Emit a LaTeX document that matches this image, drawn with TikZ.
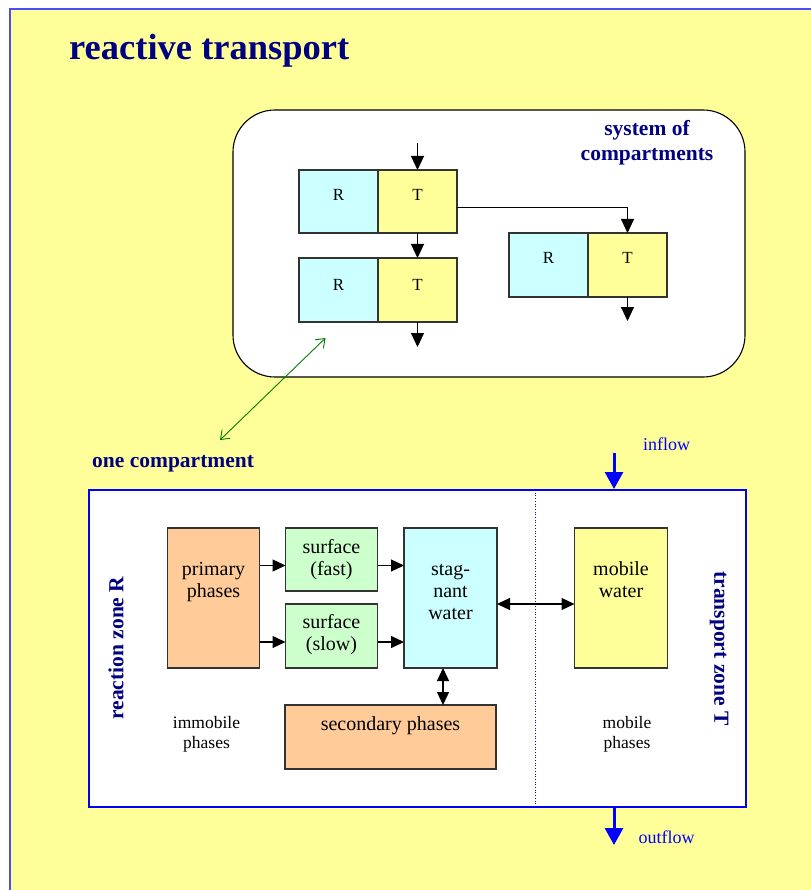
\documentclass[tikz,border=0pt]{standalone}
\usepackage{fontspec}
\setmainfont{Liberation Serif}
\usetikzlibrary{arrows.meta,calc}

\definecolor{pageyellow}{HTML}{FFFF99}
\definecolor{frameblue}{HTML}{4A4AFF}
\definecolor{navy}{HTML}{000080}
\definecolor{boxorange}{HTML}{FFCC99}
\definecolor{boxgreen}{HTML}{CCFFCC}
\definecolor{boxcyan}{HTML}{CCFFFF}
\definecolor{boxyellow}{HTML}{FFFF99}
\definecolor{edgegray}{HTML}{333333}
\definecolor{linkgreen}{HTML}{008000}

\tikzset{
  cell/.style={draw=edgegray, line width=1.2pt, inner sep=0pt, outer sep=0pt},
  rcell/.style={cell, fill=boxcyan, minimum width=79pt, minimum height=64pt},
  tcell/.style={cell, fill=boxyellow, minimum width=79pt, minimum height=64pt},
  phasebox/.style={cell, minimum width=92pt},
  boxtext/.style={inner sep=0pt, align=center, font=\fontsize{20}{22}\selectfont},
  smalltext/.style={inner sep=0pt, align=center, font=\fontsize{17.5}{20}\selectfont},
  heading/.style={inner sep=0pt, text=navy, font=\bfseries\fontsize{21.5}{25}\selectfont},
  flow/.style={draw=black, line width=1.2pt, -{Triangle[length=13pt,width=12pt]}},
  twoway/.style={draw=black, line width=1.2pt, {Triangle[length=13pt,width=12pt]}-{Triangle[length=13pt,width=12pt]}},
  sysflow/.style={draw=black, line width=1pt, -{Triangle[length=14pt,width=13pt]}},
  bigflow/.style={draw=blue, line width=3pt, -{Triangle[length=17pt,width=18pt]}},
  relation/.style={draw=linkgreen, line width=0.9pt, {Straight Barb[length=8pt,width=12pt]}-{Straight Barb[length=8pt,width=12pt]}},
}

\begin{document}
\begin{tikzpicture}[x=1pt, y=-1pt]
  % page and slide background
  \useasboundingbox (0,0) rectangle (810,890);
  \fill[white] (0,0) rectangle (810,890);
  \fill[pageyellow] (10,9) rectangle (812,892);
  \draw[frameblue, line width=2.5pt] (10,892) -- (10,9) -- (812,9);

  % title
  \node[anchor=base west, inner sep=0pt, text=navy, font=\bfseries\fontsize{36.5}{40}\selectfont]
    (title) at (69,60) {reactive transport};

  % ---------- system of compartments ----------
  \node[draw=black, line width=1.1pt, fill=white, rounded corners=42pt,
        minimum width=512pt, minimum height=267pt, inner sep=0pt]
    (system) at (489,243.5) {};
  \node[heading, anchor=north, align=center] (systitle) at (647,117.5)
    {\strut system of\\compartments};

  \node[rcell, minimum height=63pt] (R1) at (338.5,201.5) {};
  \node[tcell, minimum height=63pt] (T1) at (417.5,201.5) {};
  \node[rcell] (R2) at (338.5,290) {};
  \node[tcell] (T2) at (417.5,290) {};
  \node[rcell] (R3) at (548.5,265) {};
  \node[tcell] (T3) at (627.5,265) {};

  \foreach \c/\t/\b in {R1/R/201, T1/T/201, R2/R/290, T2/T/290, R3/R/264, T3/T/264}
    \node[anchor=base, inner sep=0pt, font=\fontsize{17}{20}\selectfont]
      (\c-label) at (\c |- 0,\b) {\t};

  \coordinate (sysin) at (417.5,143);
  \coordinate (out2) at (417.5,347);
  \coordinate (out3) at (627.5,321);
  \draw[sysflow] (sysin) -- (T1.north);
  \draw[sysflow] (T1.south) -- (T2.north);
  \draw[sysflow] (T2.south) -- (out2);
  \draw[sysflow] ($(T1.east)+(0,6)$) -| (T3.north);
  \draw[sysflow] (T3.south) -- (out3);

  % link between one compartment and the system
  \coordinate (linklow) at (220,440);
  \coordinate (linkhigh) at (325.5,338);
  \draw[relation] (linklow) -- (linkhigh);

  % ---------- one compartment ----------
  \node[heading, anchor=base west] (onecomp) at (92,467) {one compartment};

  \node[draw=blue, line width=2pt, fill=white, minimum width=657pt,
        minimum height=317pt, inner sep=0pt] (main) at (417.2,648.5) {};
  \draw[blue, line width=0.7pt, dotted] (535.5,490) -- (535.5,807);

  \node[heading, rotate=90] (reactzone) at (116,648) {reaction zone R};
  \node[heading, rotate=-90] (transzone) at (719,648.5) {transport zone T};

  % phase boxes
  \node[phasebox, fill=boxorange, minimum height=140pt] (primary) at (213.5,598) {};
  \node[phasebox, fill=boxgreen, minimum height=63pt] (fast) at (331.5,559.5) {};
  \node[phasebox, fill=boxgreen, minimum height=64pt] (slow) at (331.5,636) {};
  \node[phasebox, fill=boxcyan, minimum height=140pt, minimum width=93pt] (stag) at (450.5,598) {};
  \node[phasebox, fill=boxyellow, minimum height=140pt, minimum width=93pt] (mobile) at (621,598) {};
  \node[cell, fill=boxorange, minimum width=211pt, minimum height=64pt] (secondary) at (390.5,737) {};

  \node[boxtext, anchor=north] (primary-text) at (213.5,559.6) {\strut primary\\phases};
  \node[boxtext, anchor=north] (fast-text) at (331.5,537.6) {\strut surface\\(fast)};
  \node[boxtext, anchor=north] (slow-text) at (331.5,612.6) {\strut surface\\(slow)};
  \node[boxtext, anchor=north] (stag-text) at (450.5,559.6) {\strut stag-\\nant\\water};
  \node[boxtext, anchor=north] (mobile-text) at (621,559.6) {\strut mobile\\water};
  \node[boxtext, anchor=base] (secondary-text) at (390.5,730) {secondary phases};

  \node[smalltext, anchor=north] (immobile) at (206.5,714) {\strut immobile\\phases};
  \node[smalltext, anchor=north] (mobilephases) at (627,714) {\strut mobile\\phases};

  % exchange between the phases
  \draw[flow] ($(primary.east |- fast.west)+(0,6)$) -- ($(fast.west)+(0,6)$);
  \draw[flow] ($(primary.east |- slow.west)+(0,6)$) -- ($(slow.west)+(0,6)$);
  \draw[flow] ($(fast.east)+(0,6)$) -- ($(stag.west |- fast.west)+(0,6)$);
  \draw[flow] ($(slow.east)+(0,6)$) -- ($(stag.west |- slow.west)+(0,6)$);
  \draw[twoway] ($(stag.east)+(0,6)$) -- ($(mobile.west)+(0,6)$);
  \draw[twoway] ($(stag.south)+(-7.5,0)$) -- ($(stag.south |- secondary.north)+(-7.5,0)$);

  % inflow and outflow
  \coordinate (inflowstart) at (614,453);
  \coordinate (outflowend) at (614,845);
  \draw[bigflow] (inflowstart) -- (inflowstart |- main.north);
  \draw[bigflow] (outflowend |- main.south) -- (outflowend);
  \node[anchor=base west, inner sep=0pt, text=blue, font=\fontsize{18}{20}\selectfont]
    (inflow) at (643,450) {inflow};
  \node[anchor=base west, inner sep=0pt, text=blue, font=\fontsize{18}{20}\selectfont]
    (outflow) at (638.5,843) {outflow};
\end{tikzpicture}
\end{document}
